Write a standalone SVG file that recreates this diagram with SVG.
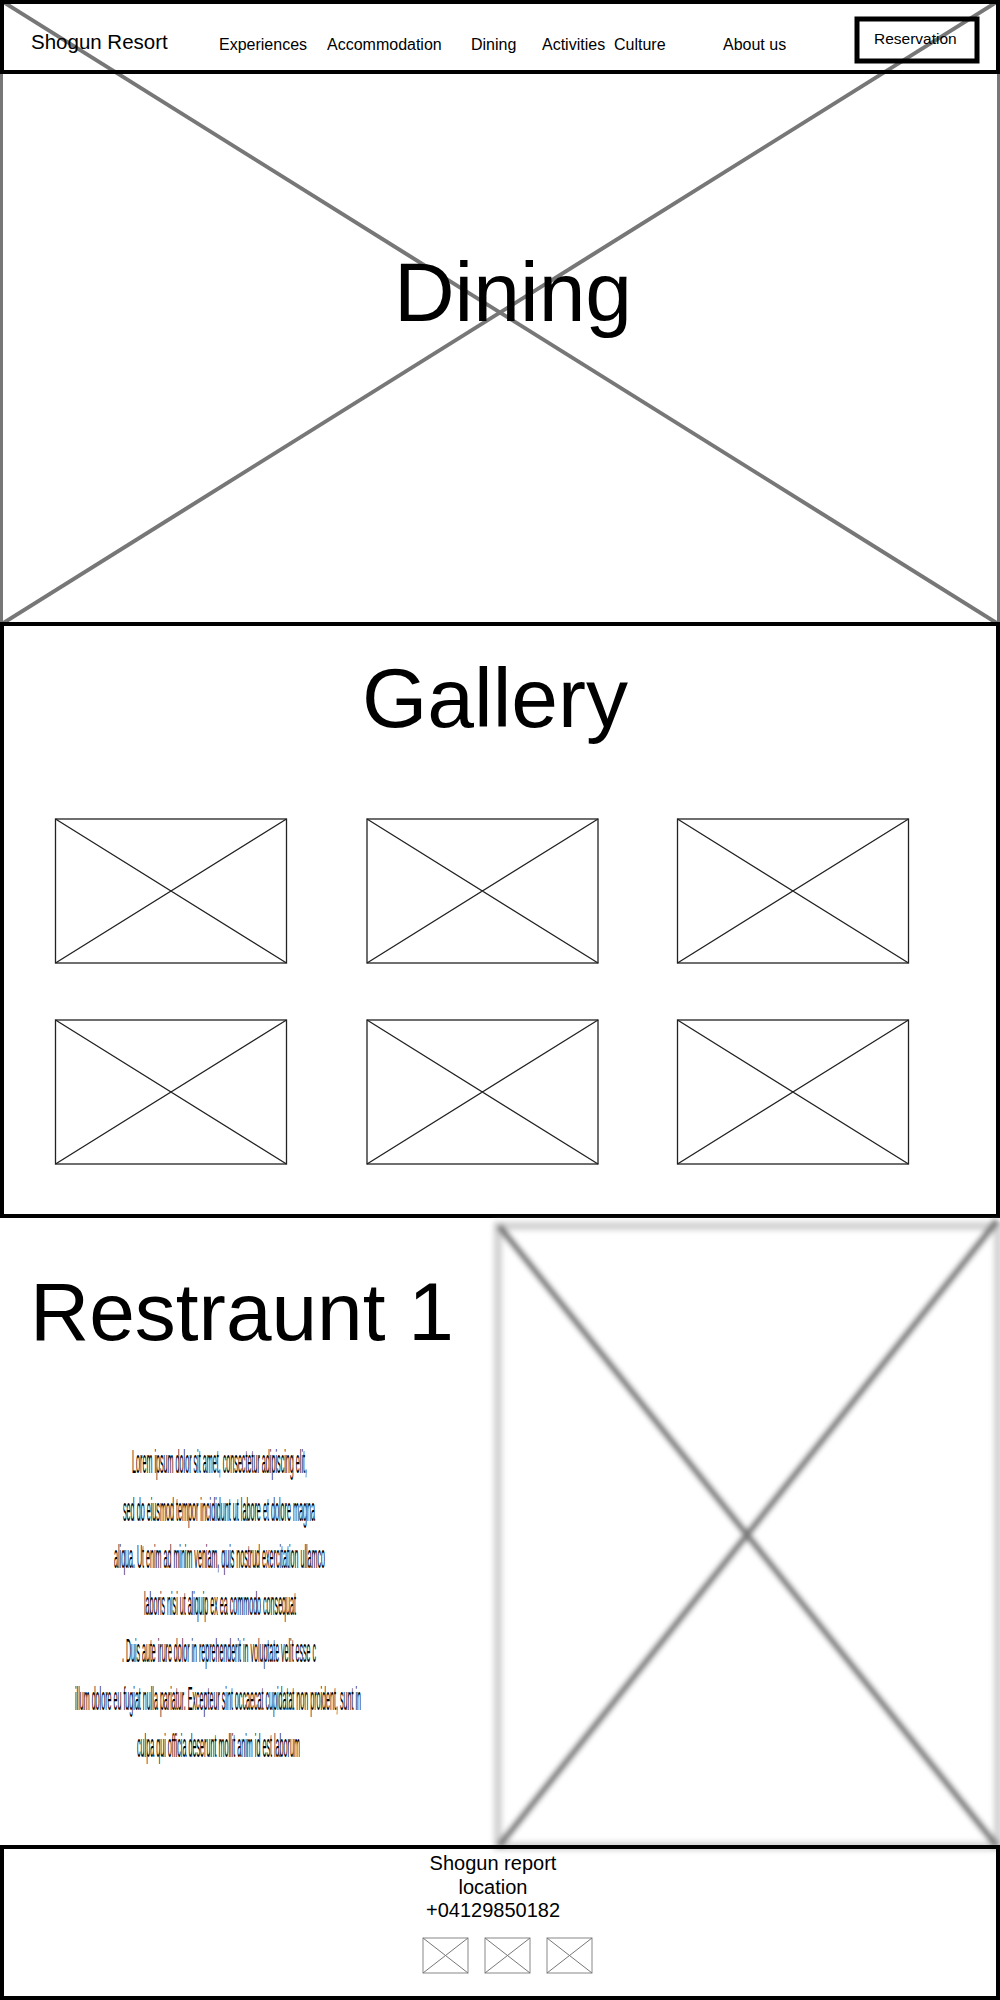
<svg xmlns="http://www.w3.org/2000/svg" width="1000" height="2000" viewBox="0 0 1000 2000">
<style>
text { font-family: "Liberation Sans", Arial, sans-serif; fill: #000; }
.nav { font-size: 16px; }
.big { font-size: 84px; text-anchor: middle; }
.lorem { font-size: 8px; text-anchor: middle; }
.foot { font-size: 20px; text-anchor: middle; }
.frame { fill: none; stroke: #000; stroke-width: 4; }
.thumb { fill: #fff; stroke: #222; stroke-width: 1.3; }
.thumbx { stroke: #222; stroke-width: 1.3; }
.icon { fill: #fff; stroke: #888; stroke-width: 1; }
.herox { stroke: #777; stroke-width: 4; fill: none; }
</style>
<defs>
<filter id="blur" x="-3%" y="-3%" width="106%" height="106%">
<feGaussianBlur stdDeviation="2.5"/>
</filter>
</defs>
<rect x="0" y="0" width="1000" height="2000" fill="#fff"/>

<g id="hero">
<rect x="1.5" y="1.5" width="997" height="623" fill="#fff" stroke="#777" stroke-width="3"/>
<line class="herox" x1="0" y1="0" x2="1000" y2="625"/>
<line class="herox" x1="1000" y1="0" x2="0" y2="625"/>
<text class="big" x="513" y="321">Dining</text>
</g>

<g id="header">
<rect class="frame" x="2" y="2" width="996" height="70"/>
<text x="31" y="49" style="font-size:20.5px">Shogun Resort</text>
<text class="nav" x="219" y="50">Experiences</text>
<text class="nav" x="327" y="50">Accommodation</text>
<text class="nav" x="471" y="50">Dining</text>
<text class="nav" x="542" y="50">Activities</text>
<text class="nav" x="614" y="50">Culture</text>
<text class="nav" x="723" y="50">About us</text>
<g id="reservation">
<rect x="857" y="19" width="120" height="42" fill="none" stroke="#000" stroke-width="5"/>
<text x="874" y="44" style="font-size:15.5px">Reservation</text>
</g>
</g>

<g id="gallery">
<rect class="frame" x="2" y="624" width="996" height="592" fill="#fff"/>
<text class="big" x="495" y="727">Gallery</text>
<g id="thumb1"><rect class="thumb" x="55.5" y="819" width="231" height="144"/><path class="thumbx" d="M55.5 819 L286.5 963 M286.5 819 L55.5 963"/></g>
<g id="thumb2"><rect class="thumb" x="367" y="819" width="231" height="144"/><path class="thumbx" d="M367 819 L598 963 M598 819 L367 963"/></g>
<g id="thumb3"><rect class="thumb" x="677.5" y="819" width="231" height="144"/><path class="thumbx" d="M677.5 819 L908.5 963 M908.5 819 L677.5 963"/></g>
<g id="thumb4"><rect class="thumb" x="55.5" y="1020" width="231" height="144"/><path class="thumbx" d="M55.5 1020 L286.5 1164 M286.5 1020 L55.5 1164"/></g>
<g id="thumb5"><rect class="thumb" x="367" y="1020" width="231" height="144"/><path class="thumbx" d="M367 1020 L598 1164 M598 1020 L367 1164"/></g>
<g id="thumb6"><rect class="thumb" x="677.5" y="1020" width="231" height="144"/><path class="thumbx" d="M677.5 1020 L908.5 1164 M908.5 1020 L677.5 1164"/></g>
</g>

<g id="restaurant">
<text x="30" y="1340" style="font-size:82px">Restraunt 1</text>
<g id="lorem">
<text class="lorem" transform="translate(219.5 1473) scale(1 4.25)" x="0" y="0" textLength="175" lengthAdjust="spacingAndGlyphs">Lorem ipsum dolor sit amet, consectetur adipiscing elit,</text>
<text class="lorem" transform="translate(219 1521) scale(1 4.25)" x="0" y="0" textLength="192" lengthAdjust="spacingAndGlyphs">sed do eiusmod tempor incididunt ut labore et dolore magna</text>
<text class="lorem" transform="translate(219.5 1568) scale(1 4.25)" x="0" y="0" textLength="211" lengthAdjust="spacingAndGlyphs">aliqua. Ut enim ad minim veniam, quis nostrud exercitation ullamco</text>
<text class="lorem" transform="translate(220 1615) scale(1 4.25)" x="0" y="0" textLength="152" lengthAdjust="spacingAndGlyphs">laboris nisi ut aliquip ex ea commodo consequat</text>
<text class="lorem" transform="translate(219 1662) scale(1 4.25)" x="0" y="0" textLength="194" lengthAdjust="spacingAndGlyphs">. Duis aute irure dolor in reprehenderit in voluptate velit esse c</text>
<text class="lorem" transform="translate(218 1710) scale(1 4.25)" x="0" y="0" textLength="286" lengthAdjust="spacingAndGlyphs">illum dolore eu fugiat nulla pariatur. Excepteur sint occaecat cupidatat non proident, sunt in</text>
<text class="lorem" transform="translate(218.5 1757) scale(1 4.25)" x="0" y="0" textLength="163" lengthAdjust="spacingAndGlyphs">culpa qui officia deserunt mollit anim id est laborum</text>
</g>
<g id="restaurant-image" filter="url(#blur)">
<rect x="498" y="1226" width="500" height="620" fill="#fff" stroke="#d6d6d6" stroke-width="9"/>
<line x1="499" y1="1226" x2="997" y2="1846" stroke="#7c7c7c" stroke-width="7"/>
<line x1="997" y1="1221" x2="499" y2="1846" stroke="#7c7c7c" stroke-width="7"/>
</g>
</g>

<g id="footer">
<rect class="frame" x="2" y="1847" width="996" height="151"/>
<text class="foot" x="493" y="1870">Shogun report</text>
<text class="foot" x="493" y="1894">location</text>
<text class="foot" x="493" y="1917">+04129850182</text>
<g id="icon1"><rect class="icon" x="423" y="1938" width="45" height="35"/><path stroke="#777" stroke-width="1" d="M423 1938 L468 1973 M468 1938 L423 1973"/></g>
<g id="icon2"><rect class="icon" x="485" y="1938" width="45" height="35"/><path stroke="#777" stroke-width="1" d="M485 1938 L530 1973 M530 1938 L485 1973"/></g>
<g id="icon3"><rect class="icon" x="547" y="1938" width="45" height="35"/><path stroke="#777" stroke-width="1" d="M547 1938 L592 1973 M592 1938 L547 1973"/></g>
</g>
</svg>
